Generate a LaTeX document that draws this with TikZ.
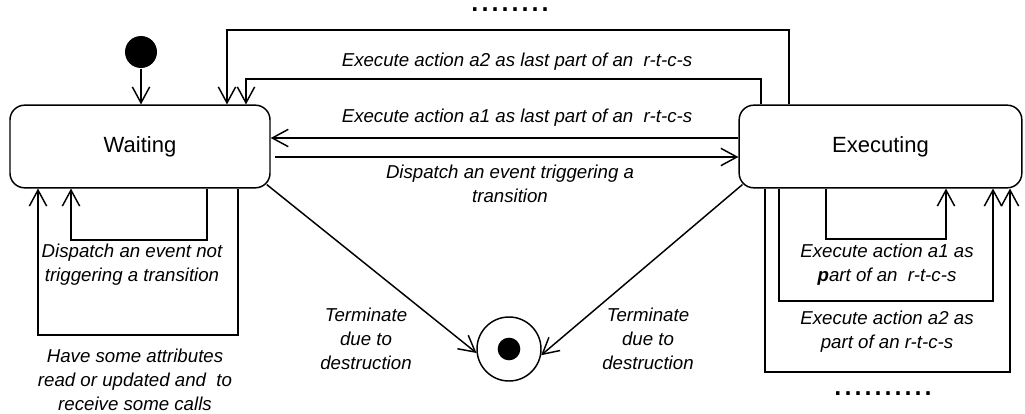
\documentclass[tikz,border=0pt]{standalone}
\usepackage{fontspec}
\setmainfont{Liberation Sans}
\usetikzlibrary{arrows.meta,positioning,calc}

\tikzset{
  state/.style={draw, rounded corners=11pt, minimum height=62pt,
    font=\fontsize{16.5}{20}\selectfont},
  lbl/.style={font=\fontsize{14}{18}\selectfont\itshape, align=center},
  more/.style={font=\fontsize{27}{27}\selectfont, anchor=base,
    inner sep=0pt, text height=3pt, text depth=0pt},
  >={Straight Barb[length=12pt,width=13pt]},
}

\begin{document}
\begin{tikzpicture}[x=0.75pt, y=-0.75pt, line width=1.1pt]
  \useasboundingbox (0,0) rectangle (1025,414);

  % states
  \node [state, minimum width=195pt] (wait) at (140,146.5) {Waiting};
  \node [state, minimum width=212pt] (exec) at (880.5,146.5) {Executing};
  \node [circle, fill, minimum size=24pt, inner sep=0pt] (init) at (141,52) {};
  \node [circle, draw, minimum size=48pt, inner sep=0pt] (final) at (509,349) {};
  \node [circle, fill, minimum size=17pt, inner sep=0pt] (finaldot) at (final) {};

  \draw[->] (init) -- (init |- wait.north);

  % transitions between the states
  \draw[->] (789,0 |- exec.north) |- (227,30) -- (227,0 |- wait.north);
  \draw[->] (761,0 |- exec.north) |- (246,79) -- (246,0 |- wait.north);
  \draw[->] (exec.west |- 0,138) -- (wait.east |- 0,138);
  \draw[->, shorten <=3.5pt] (wait.east |- 0,157) -- (exec.west |- 0,157);
  \draw[->] ($(wait.south east)+(-4,-4)$) -- (final.187);
  \draw[->] ($(exec.south west)+(4,-4)$) -- (final.349);

  % self loops
  \draw[->] (238,0 |- wait.south) |- (38,335) -- (38,0 |- wait.south);
  \draw[->] (207,0 |- wait.south) |- (71,240) -- (71,0 |- wait.south);
  \draw[->] (826,0 |- exec.south) |- (946,239) -- (946,0 |- exec.south);
  \draw[->] (779,0 |- exec.south) |- (993,301) -- (993,0 |- exec.south);
  \draw[->] (765,0 |- exec.south) |- (1010,372) -- (1010,0 |- exec.south);

  % labels
  \node [lbl] (la2) at (517,62) {Execute action a2 as last part of an\ \ r-t-c-s};
  \node [lbl] (la1) at (517,118) {Execute action a1 as last part of an\ \ r-t-c-s};
  \node [lbl] (ldisp) at (510,184) {Dispatch an event triggering a\\transition};
  \node [lbl] (lnot) at (132,265) {Dispatch an event not\\triggering a transition};
  \node [lbl] (lattr) at (135,380) {Have some attributes\\read or updated and\ \ to\\receive some calls};
  \node [lbl] (lterm1) at (366,339) {Terminate\\due to\\destruction};
  \node [lbl] (lterm2) at (648,339) {Terminate\\due to\\destruction};
  \node [lbl] (lpart1) at (887,265) {Execute action a1 as\\\textbf{p}art of an\ \ r-t-c-s};
  \node [lbl] (lpart2) at (887,332) {Execute action a2 as\\part of an r-t-c-s};

  \node [more] (dtop) at (510,12) {........};
  \node [more] (dbot) at (883,395) {..........};
\end{tikzpicture}
\end{document}
